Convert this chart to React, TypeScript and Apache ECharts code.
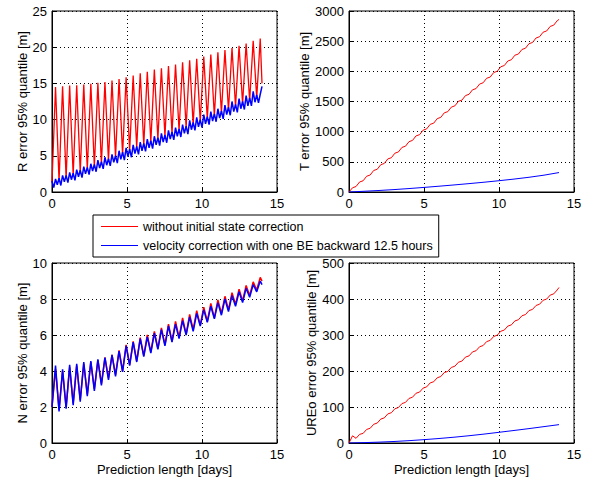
import React, { useEffect, useRef } from "react";
import * as echarts from "echarts";

// ---- sampling grids (days) ----
const HALF_STEP = 0.2353; // half orbital period
const QUARTER_STEP = 0.11765; // quarter orbital period
const END_DAY = 14.0;
const DAYS = [0, 1, 2, 3, 4, 5, 6, 7, 8, 9, 10, 11, 12, 13, 14];

// ---- series names ----
const NAME_RED = "without initial state correction";
const NAME_BLUE = "velocity correction with one BE backward 12.5 hours";

// ---- R error (half-period samples for red, quarter-period for blue) ----
const rRed = [
  1.3, 14.5, 1.5, 14.6, 1.9, 14.7, 2.3, 14.75, 2.7, 14.85, 3.1, 14.95, 3.5, 15.1, 3.9, 15.2,
  4.3, 15.4, 4.8, 15.6, 5.2, 15.85, 5.7, 16.1, 6.1, 16.4, 6.5, 16.6, 6.9, 16.9, 7.3, 17.1,
  7.7, 17.4, 8.1, 17.6, 8.5, 17.9, 8.9, 18.2, 9.3, 18.4, 9.7, 18.7, 10.1, 19.0, 10.5, 19.3,
  10.9, 19.6, 11.3, 19.9, 11.8, 20.2, 12.2, 20.5, 12.6, 20.9, 13.0, 21.2,
];
const rRedEnd = 15.0;
const rBlue = [
  1.5, 0.6, 1.8, 1.0, 1.9, 0.9, 2.3, 1.4, 2.3, 1.3,
  2.7, 1.7, 2.6, 1.6, 3.1, 2.1, 3.0, 2.0, 3.5, 2.5,
  3.4, 2.4, 3.9, 2.9, 3.8, 2.8, 4.4, 3.3, 4.2, 3.2,
  4.8, 3.7, 4.6, 3.6, 5.2, 4.1, 5.0, 4.0, 5.7, 4.5,
  5.5, 4.4, 6.1, 4.9, 5.9, 4.8, 6.5, 5.3, 6.3, 5.2,
  6.9, 5.7, 6.7, 5.6, 7.3, 6.1, 7.1, 6.0, 7.7, 6.5,
  7.5, 6.4, 8.1, 6.9, 7.9, 6.8, 8.5, 7.3, 8.3, 7.2,
  8.9, 7.7, 8.7, 7.6, 9.3, 8.1, 9.1, 8.0, 9.9, 8.6,
  9.6, 8.5, 10.3, 9.0, 10.0, 8.9, 10.7, 9.4, 10.4, 9.3,
  11.1, 9.8, 10.8, 9.7, 11.5, 10.2, 11.2, 10.1, 12.0, 10.7,
  11.7, 10.6, 12.5, 11.1, 12.1, 11.0, 12.9, 11.5, 12.5, 11.4,
  13.3, 11.9, 13.0, 11.9, 13.9, 12.4, 13.4, 12.3, 13.5, 14.6,
];

// ---- T error ----
const tRed = [
  0, 70, 91, 166, 186, 261, 282, 357, 377, 452, 473, 548, 568, 643, 664, 739,
  759, 834, 855, 930, 950, 1025, 1046, 1121, 1141, 1216, 1237, 1312, 1332, 1407,
  1428, 1503, 1523, 1598, 1619, 1694, 1714, 1789, 1810, 1885, 1905, 1980, 2001, 2076,
  2096, 2171, 2192, 2267, 2287, 2362, 2383, 2458, 2478, 2553, 2574, 2649, 2669, 2744,
  2765, 2840,
];
const tRedEnd = 2860;
const tBlue = [0, 12, 25, 40, 57, 76, 96, 117, 139, 162, 187, 214, 244, 279, 322];

// ---- N error ----
const nRed = [
  2.0, 4.1, 1.85, 4.0, 2.0, 4.2, 2.2, 4.3, 2.4, 4.4, 2.7, 4.5, 3.0, 4.6, 3.3, 4.75,
  3.6, 4.9, 3.8, 5.15, 4.0, 5.45, 4.35, 5.65, 4.55, 5.85, 4.85, 6.0, 5.05, 6.2, 5.25, 6.4,
  5.45, 6.6, 5.65, 6.75, 5.85, 6.95, 6.05, 7.15, 6.3, 7.35, 6.55, 7.55, 6.75, 7.75, 6.95, 7.95,
  7.2, 8.15, 7.4, 8.35, 7.7, 8.55, 7.9, 8.75, 8.2, 8.95, 8.5, 9.2,
];
const nRedEnd = 9.0;
const nBlue = [
  2.0, 4.3, 1.75, 4.1, 1.9, 4.35, 2.1, 4.4, 2.3, 4.5, 2.6, 4.55, 2.9, 4.65, 3.2, 4.75,
  3.5, 4.9, 3.7, 5.1, 3.95, 5.4, 4.3, 5.6, 4.5, 5.8, 4.8, 5.9, 5.0, 6.1, 5.2, 6.3,
  5.4, 6.5, 5.6, 6.6, 5.8, 6.8, 6.0, 7.0, 6.2, 7.2, 6.5, 7.4, 6.7, 7.6, 6.9, 7.8,
  7.1, 8.0, 7.3, 8.2, 7.6, 8.4, 7.8, 8.6, 8.1, 8.8, 8.4, 9.0,
];
const nBlueEnd = 8.8;

// ---- UREo error ----
const uRed = [
  0, 20, 13, 24, 26.7, 37.7, 41, 52, 55.4, 66.4, 69.8, 80.8, 84.1, 95.1, 98.5, 109.5,
  112.8, 123.8, 127.2, 138.2, 141.5, 152.5, 155.9, 166.9, 170.2, 181.2, 184.6, 195.6,
  198.9, 209.9, 213.3, 224.3, 227.6, 238.6, 242, 253, 256.3, 267.3, 270.7, 281.7,
  285, 296, 299.4, 310.4, 313.7, 324.7, 328.1, 339.1, 342.4, 353.4, 356.8, 367.8,
  371.1, 382.1, 385.5, 396.5, 399.8, 410.8, 414.2, 425.2,
];
const uRedEnd = 432;
const uBlue = [0, 1.0, 2.4, 4.2, 6.5, 9.3, 12.5, 16.1, 20.2, 24.7, 29.7, 34.8, 40, 45.5, 51];

// ---- axes ----
const X_TICKS = { min: 0, max: 15, interval: 5 };
const Y_AXES = [
  { name: "R error 95% quantile [m]", min: 0, max: 25, interval: 5, gap: 22 },
  { name: "T error 95% quantile [m]", min: 0, max: 3000, interval: 500, gap: 37 },
  { name: "N error 95% quantile [m]", min: 0, max: 10, interval: 2, gap: 22 },
  { name: "UREo error 95% quantile [m]", min: 0, max: 500, interval: 100, gap: 30 },
];
const X_NAME = "Prediction length [days]";

const FONT = "'Liberation Sans', Arial, Helvetica, sans-serif";
const RED = "#ff0000";
const BLUE = "#0000ff";

function onGrid(values: number[], step: number, endValue?: number) {
  const d: number[][] = values.map((v, i) => [+(i * step).toFixed(4), v]);
  if (endValue !== undefined) d.push([END_DAY, endValue]);
  return d;
}
function onDays(values: number[]) {
  return values.map((v, i) => [DAYS[i], v]);
}

export default function App() {
  const ref = useRef<HTMLDivElement>(null);
  useEffect(() => {
    if (!ref.current) return;
    const chart = echarts.init(ref.current, undefined, { renderer: "svg" });
    const grids = [
      { left: 52, top: 11, width: 225, height: 181 },
      { left: 349, top: 11, width: 225, height: 181 },
      { left: 52, top: 263, width: 225, height: 180 },
      { left: 349, top: 263, width: 225, height: 180 },
    ].map((g) => ({ ...g, show: true, borderColor: "#000", borderWidth: 1, backgroundColor: "#fff" }));

    const axisCommon = {
      axisLine: { show: true, onZero: false, lineStyle: { color: "#000", width: 1 } },
      axisTick: { show: true, inside: true, length: 4, lineStyle: { color: "#000" } },
      splitLine: { show: true, lineStyle: { color: "#000", width: 1, type: [1, 3] } },
      axisLabel: {
        color: "#000",
        fontSize: 13,
        fontFamily: FONT,
        margin: 5,
        formatter: (v: number) => String(v),
      },
    };

    const xAxis = [0, 1, 2, 3].map((i) => ({
      type: "value",
      gridIndex: i,
      ...X_TICKS,
      ...axisCommon,
      name: i >= 2 ? X_NAME : "",
      nameLocation: "middle",
      nameGap: 20,
      nameTextStyle: { color: "#000", fontSize: 13, fontFamily: FONT },
    }));
    const yAxis = Y_AXES.map((a, i) => ({
      type: "value",
      gridIndex: i,
      min: a.min,
      max: a.max,
      interval: a.interval,
      ...axisCommon,
      name: a.name,
      nameLocation: "middle",
      nameGap: a.gap,
      nameTextStyle: { color: "#000", fontSize: 13, fontFamily: FONT },
    }));

    const line = (name: string, color: string, idx: number, data: number[][], width = 1) => ({
      type: "line",
      name,
      xAxisIndex: idx,
      yAxisIndex: idx,
      data,
      symbol: "none",
      lineStyle: { color, width },
      itemStyle: { color },
      silent: true,
    });

    const series = [
      line(NAME_RED, RED, 0, onGrid(rRed, HALF_STEP, rRedEnd), 1.3),
      line(NAME_BLUE, BLUE, 0, onGrid(rBlue, QUARTER_STEP), 1.5),
      line(NAME_RED, RED, 1, onGrid(tRed, HALF_STEP, tRedEnd)),
      line(NAME_BLUE, BLUE, 1, onDays(tBlue)),
      line(NAME_RED, RED, 2, onGrid(nRed, HALF_STEP, nRedEnd), 1.5),
      line(NAME_BLUE, BLUE, 2, onGrid(nBlue, HALF_STEP, nBlueEnd), 1.5),
      line(NAME_RED, RED, 3, onGrid(uRed, HALF_STEP, uRedEnd)),
      line(NAME_BLUE, BLUE, 3, onDays(uBlue)),
    ];

    chart.setOption({
      animation: false,
      backgroundColor: "#fff",
      grid: grids,
      xAxis,
      yAxis,
      series,
      legend: {
        data: [
          { name: NAME_RED, icon: "rect", itemStyle: { color: RED } },
          { name: NAME_BLUE, icon: "rect", itemStyle: { color: BLUE } },
        ],
        orient: "vertical",
        left: 93,
        top: 215,
        backgroundColor: "#fff",
        borderColor: "#000",
        borderWidth: 1,
        borderRadius: 0,
        padding: [5, 6, 5, 8],
        itemGap: 6,
        itemWidth: 37,
        itemHeight: 1,
        textStyle: { color: "#000", fontSize: 12.5, fontFamily: FONT, lineHeight: 13 },
        selectedMode: false,
      },
    });
    return () => chart.dispose();
  }, []);
  return (
    <div
      ref={ref}
      style={{ position: "fixed", left: 0, top: 0, width: 592, height: 478, background: "#fff" }}
    />
  );
}
